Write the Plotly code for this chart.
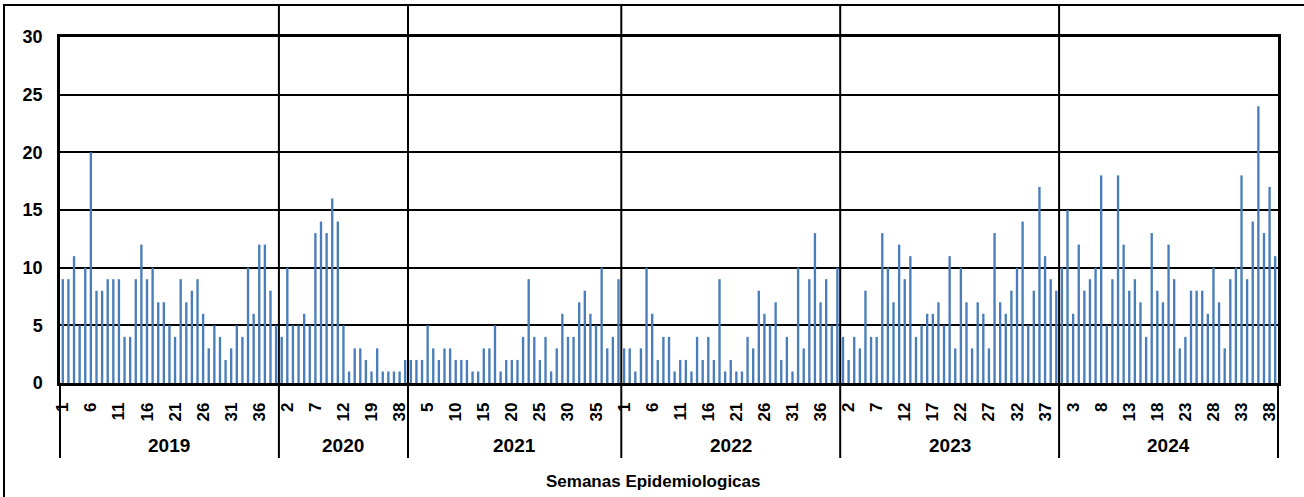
import plotly.graph_objects as go

# ---------------- data ----------------
years = ["2019", "2020", "2021", "2022", "2023", "2024"]

weeks_2019 = list(range(1, 40))
weeks_2020 = [1, 2, 3, 4, 5, 6, 7, 8, 9, 10, 11, 12, 14, 15, 16, 18, 19, 23, 27, 31, 35, 38, 39]
weeks_2021 = list(range(2, 40))
weeks_2022 = list(range(1, 40))
weeks_2023 = list(range(1, 40))
weeks_2024 = list(range(1, 40))

cases_2019 = [9, 9, 11, 5, 10, 20, 8, 8, 9, 9, 9, 4, 4, 9, 12, 9, 10, 7, 7, 5,
              4, 9, 7, 8, 9, 6, 3, 5, 4, 2, 3, 5, 4, 10, 6, 12, 12, 8, 5]
cases_2020 = [4, 10, 5, 5, 6, 5, 13, 14, 13, 16, 14, 5, 1, 3, 3, 2, 1, 3, 1, 1, 1, 1, 2]
cases_2021 = [2, 2, 2, 5, 3, 2, 3, 3, 2, 2, 2, 1, 1, 3, 3, 5, 1, 2, 2, 2,
              4, 9, 4, 2, 4, 1, 3, 6, 4, 4, 7, 8, 6, 5, 10, 3, 4, 9]
cases_2022 = [3, 3, 1, 3, 10, 6, 2, 4, 4, 1, 2, 2, 1, 4, 2, 4, 2, 9, 1, 2,
              1, 1, 4, 3, 8, 6, 5, 7, 2, 4, 1, 10, 3, 9, 13, 7, 9, 5, 10]
cases_2023 = [4, 2, 4, 3, 8, 4, 4, 13, 10, 7, 12, 9, 11, 4, 5, 6, 6, 7, 5, 11,
              3, 10, 7, 3, 7, 6, 3, 13, 7, 6, 8, 10, 14, 5, 8, 17, 11, 9, 8]
cases_2024 = [10, 15, 6, 12, 8, 9, 10, 18, 5, 9, 18, 12, 8, 9, 7, 4, 13, 8, 7, 12,
              9, 3, 4, 8, 8, 8, 6, 10, 7, 3, 9, 10, 18, 9, 14, 24, 13, 17, 11]

x_title = "Semanas Epidemiologicas"
y_ticks = [0, 5, 10, 15, 20, 25, 30]

# ---------------- build ----------------
all_weeks = [weeks_2019, weeks_2020, weeks_2021, weeks_2022, weeks_2023, weeks_2024]
all_cases = [cases_2019, cases_2020, cases_2021, cases_2022, cases_2023, cases_2024]

xs, ys, week_lbl, year_lbl = [], [], [], []
bounds = []
start_idx = []
idx = 0
for yr, wk, cs in zip(years, all_weeks, all_cases):
    start_idx.append(idx)
    for w, c in zip(wk, cs):
        xs.append(idx)
        ys.append(c)
        week_lbl.append(str(w))
        year_lbl.append(yr)
        idx += 1
    bounds.append(idx)
total = idx

FONT = "Liberation Sans Narrow, Arial Narrow, Liberation Sans, Arial, sans-serif"

fig = go.Figure()
fig.add_trace(go.Bar(
    x=xs, y=ys,
    marker=dict(color="#4a7ebb", line=dict(width=0)),
    customdata=list(zip(year_lbl, week_lbl)),
    hovertemplate="Año %{customdata[0]}, semana %{customdata[1]}: %{y}<extra></extra>",
))

tickvals = list(range(0, total, 5))
# pad one-digit labels with a figure space so every label is aligned next to the axis
ticktext = [("\u2007" + week_lbl[i]) if len(week_lbl[i]) == 1 else week_lbl[i] for i in tickvals]

# plot geometry (px) -> paper coords
H, W = 497, 1304
mt, mb, ml, mr = 37, 114, 60, 26
ph = H - mt - mb
pw = W - ml - mr
def py(p):
    return (H - mb - p) / ph
def px(p):
    return (p - ml) / pw

shapes = []
# year separators spanning from outer border top to below year labels
for b in bounds[:-1]:
    shapes.append(dict(type="line", xref="paper", yref="paper",
                       x0=b / total, x1=b / total, y0=py(458), y1=py(5),
                       line=dict(color="black", width=2)))
# outer edges of category axis below plot
for b in [0, total]:
    shapes.append(dict(type="line", xref="paper", yref="paper",
                       x0=b / total, x1=b / total, y0=py(458), y1=0,
                       line=dict(color="black", width=2)))
# outer chart border
shapes.append(dict(type="rect", xref="paper", yref="paper",
                   x0=px(4), x1=px(1312), y0=py(520), y1=py(5),
                   line=dict(color="black", width=2), fillcolor="rgba(0,0,0,0)",
                   layer="below"))

annotations = []
for yr, s, e in zip(years, start_idx, bounds):
    annotations.append(dict(x=(s + e - 1) / 2, xref="x", y=py(445), yref="paper",
                            text=yr, showarrow=False, xanchor="center", yanchor="middle",
                            font=dict(family=FONT, size=19, color="black", weight="bold")))
annotations.append(dict(x=px(653), xref="paper", y=py(481), yref="paper",
                        text=x_title, showarrow=False, xanchor="center", yanchor="middle",
                        font=dict(family=FONT, size=17, color="black", weight="bold")))

fig.update_layout(
    width=W, height=H,
    margin=dict(l=ml, r=mr, t=mt, b=mb, pad=0),
    paper_bgcolor="white", plot_bgcolor="white",
    showlegend=False, bargap=0.58,
    shapes=shapes, annotations=annotations,
    font=dict(family=FONT, color="black"),
)
fig.update_xaxes(
    range=[-0.5, total - 0.5], tickmode="array", tickvals=tickvals, ticktext=ticktext,
    tickangle=-90, showgrid=False, zeroline=False,
    showline=True, mirror=True, linecolor="black", linewidth=2.5,
    ticks="", ticklabelstandoff=10,
    tickfont=dict(family=FONT, size=17, color="black", weight="bold"),
)
fig.update_yaxes(
    range=[0, 30], tickmode="array", tickvals=y_ticks,
    showgrid=True, gridcolor="black", gridwidth=1.5, zeroline=False,
    showline=True, mirror=True, linecolor="black", linewidth=2.5,
    ticks="", ticklabelstandoff=11,
    tickfont=dict(family=FONT, size=18, color="black", weight="bold"),
)

fig.write_html("out.html", config={"displayModeBar": False},
               post_script="document.body.style.margin='0';document.body.style.overflow='hidden';")
